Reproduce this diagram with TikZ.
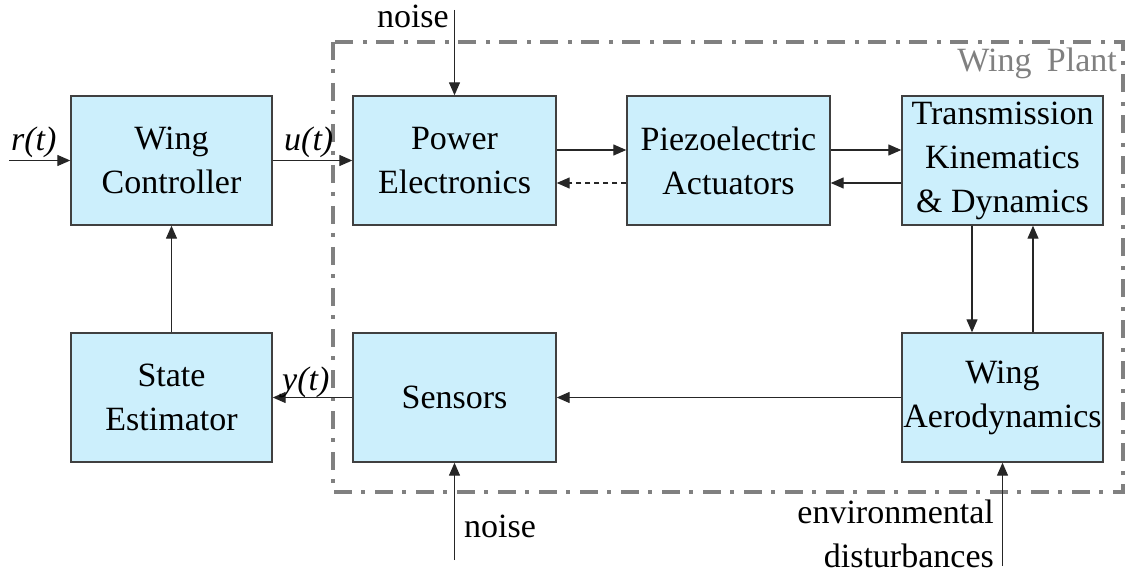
\documentclass[tikz,border=0pt]{standalone}
\usepackage{fontspec}
\setmainfont{Liberation Serif}
\usetikzlibrary{arrows.meta,calc}
\begin{document}
\begin{tikzpicture}[x=1pt,y=-1pt,
  blk/.style={draw=black!75,line width=1.4pt,fill=cyan!20,minimum width=203pt,minimum height=129pt,inner sep=0pt,align=center,font=\fontsize{34}{44}\selectfont},
  arr/.style={draw=black!85,line width=1.3pt,-{Triangle[length=13pt,width=11pt]}},
  dsh/.style={arr,dashed,dash pattern=on 5pt off 4pt},
  lbl/.style={font=\fontsize{34}{44}\selectfont,inner sep=0pt},
  plant/.style={draw=black!50,line width=4pt,dash pattern=on 18pt off 9pt on 4pt off 10pt}]
\useasboundingbox (0,0) rectangle (1126,577);
% plant frame
\draw[plant] (333,42) rectangle (1123,492);
\node[lbl,text=black!50,anchor=base east] (wp) at (1117,72) {Wing\hspace{0.45em}Plant};
% blocks
\node[blk,minimum width=201pt] (wc) at (171.5,160.5) {Wing\\Controller};
\node[blk] (pe) at (454.5,160.5) {Power\\Electronics};
\node[blk] (pa) at (728.5,160.5) {Piezoelectric\\Actuators};
\node[blk,minimum width=201pt] (tk) at (1002.5,160.5) {Transmission\\Kinematics\\\& Dynamics};
\node[blk,minimum width=201pt] (se) at (171.5,397.5) {State\\Estimator};
\node[blk] (sn) at (454.5,397.5) {Sensors};
\node[blk,minimum width=201pt] (wa) at (1002.5,397.5) {Wing\\Aerodynamics};
% free ends
\coordinate (rin) at (9,160.5);
\coordinate (n1) at (454.5,10);
\coordinate (n2) at (454.5,560);
\coordinate (env) at (1002.5,566);
% connectors
\draw[arr] (rin) -- (wc.west);
\draw[arr] (wc.east) -- (pe.west);
\draw[arr] (se.north) -- (wc.south);
\draw[arr] (sn.west) -- (se.east);
\draw[arr] (wa.west) -- (sn.east);
\draw[arr] (n1) -- (pe.north);
\draw[arr] (n2) -- (sn.south);
\draw[arr] (env) -- (wa.south);
\draw[arr] ($(pe.east)+(0,-10.5)$) -- ($(pa.west)+(0,-10.5)$);
\draw[dsh] ($(pa.west)+(0,22.5)$) -- ($(pe.east)+(0,22.5)$);
\draw[arr] ($(pa.east)+(0,-10.5)$) -- ($(tk.west)+(0,-10.5)$);
\draw[arr] ($(tk.west)+(0,22.5)$) -- ($(pa.east)+(0,22.5)$);
\draw[arr] ($(tk.south)+(-30.5,0)$) -- ($(wa.north)+(-30.5,0)$);
\draw[arr] ($(wa.north)+(30.5,0)$) -- ($(tk.south)+(30.5,0)$);
% labels
\node[lbl,anchor=base west] (lr) at (11,151) {\itshape r(t)};
\node[lbl,anchor=base west] (lu) at (284,151) {\itshape u(t)};
\node[lbl,anchor=base west] (ly) at (282,390) {\itshape y(t)};
\node[lbl,anchor=base east] (ln1) at (449,28) {noise};
\node[lbl,anchor=base west] (ln2) at (464,537) {noise};
\node[lbl,anchor=base east,align=right] (le) at (994,523) {environmental};
\node[lbl,anchor=base east] (ld) at (994,567) {disturbances};
\end{tikzpicture}
\end{document}
